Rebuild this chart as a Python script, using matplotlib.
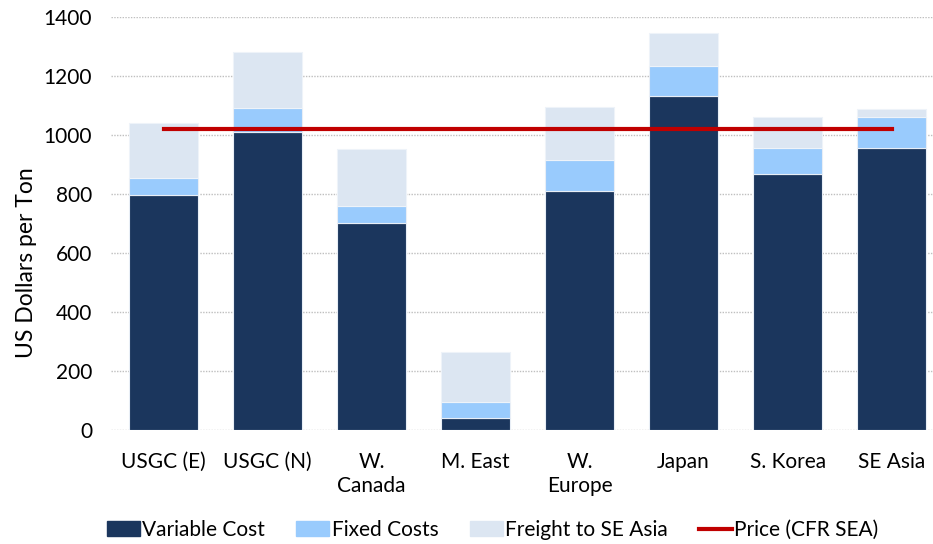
import numpy as np
import matplotlib
matplotlib.use('Agg')
import matplotlib.pyplot as plt
from matplotlib.lines import Line2D
from matplotlib.patches import Patch

plt.rcParams['font.family'] = ['Lato', 'DejaVu Sans']

regions = ['USGC (E)', 'USGC (N)', 'W.\nCanada', 'M. East', 'W.\nEurope', 'Japan', 'S. Korea', 'SE Asia']
variable_cost = [797, 1010, 700, 40, 810, 1130, 868, 955]
fixed_costs = [55, 80, 58, 55, 105, 105, 88, 105]
freight = [188, 190, 195, 170, 180, 110, 105, 28]
price_cfr_sea = [1020, 1020, 1020, 1020, 1020, 1020, 1020, 1020]

c_var = '#1b365d'
c_fixed = '#99cbfd'
c_freight = '#dce6f2'
c_price = '#c00000'

fig = plt.figure(figsize=(9.33, 5.44), dpi=100)
ax = fig.add_axes([0.1195, 0.21, 0.892, 0.759])

x = np.arange(len(regions))
w = 0.66
var = np.array(variable_cost)
fix = np.array(fixed_costs)
ax.bar(x, var, w, color=c_var, edgecolor='#e8eef6', linewidth=0.8, zorder=2)
ax.bar(x, fix, w, bottom=var, color=c_fixed, edgecolor='#e8eef6', linewidth=0.8, zorder=2)
ax.bar(x, freight, w, bottom=var + fix, color=c_freight, edgecolor='#eef3f9', linewidth=0.8, zorder=2)
ax.plot(x, price_cfr_sea, color=c_price, linewidth=3, zorder=3)

ax.set_xlim(-0.5, len(regions) - 0.5)
ax.set_ylim(0, 1400)
ax.set_yticks(range(0, 1401, 200))
ax.yaxis.grid(True, linestyle=(0, (1, 1)), color='#bfbfbf', linewidth=1, zorder=0)
for s in ax.spines.values():
    s.set_visible(False)
ax.tick_params(length=0, labelsize=15, colors='black')
ax.tick_params(axis='x', pad=16)
ax.tick_params(axis='y', pad=14)
ax.set_xticks(x)
ax.set_xticklabels(regions, linespacing=1.25)
ax.set_ylabel('US Dollars per Ton', fontsize=16.5)
ax.yaxis.set_label_coords(-0.09, 0.405)

handles = [Patch(color=c_var), Patch(color=c_fixed), Patch(color=c_freight),
           Line2D([], [], color=c_price, linewidth=3)]
labels = ['Variable Cost', 'Fixed Costs', 'Freight to SE Asia', 'Price (CFR SEA)']
fig.legend(handles, labels, loc='lower center', bbox_to_anchor=(0.528, -0.027), ncol=4,
           frameon=False, fontsize=15, handlelength=1.6, handletextpad=0.1, columnspacing=1.5)

fig.savefig('out.png', dpi=100)
